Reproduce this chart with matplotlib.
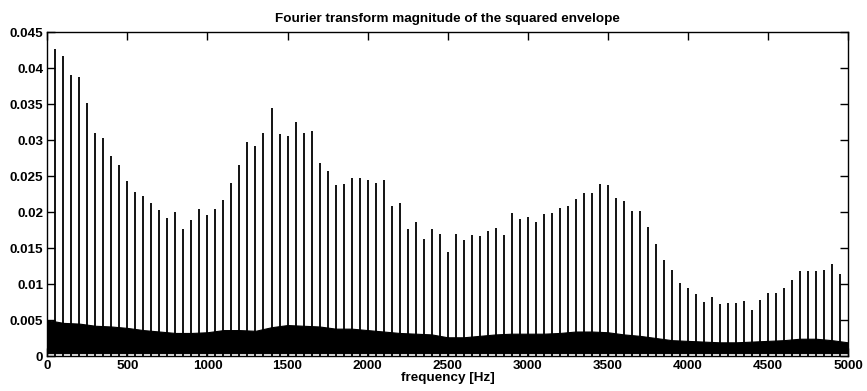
import matplotlib.pyplot as plt
import numpy as np

# harmonic peaks every 50 Hz (50 .. 4950)
harm_freq = np.arange(50, 5000, 50)
harm_mag = [
    0.0426, 0.0417, 0.0391, 0.0388, 0.0351, 0.0310, 0.0303, 0.0278, 0.0266, 0.0243,
    0.0228, 0.0222, 0.0213, 0.0203, 0.0192, 0.0200, 0.0177, 0.0189, 0.0204, 0.0196,
    0.0204, 0.0217, 0.0241, 0.0265, 0.0297, 0.0292, 0.0310, 0.0345, 0.0308, 0.0306,
    0.0325, 0.0310, 0.0312, 0.0268, 0.0257, 0.0238, 0.0239, 0.0247, 0.0247, 0.0245,
    0.0240, 0.0245, 0.0208, 0.0212, 0.0177, 0.0186, 0.0163, 0.0177, 0.0169, 0.0145,
    0.0170, 0.0161, 0.0168, 0.0167, 0.0174, 0.0178, 0.0168, 0.0198, 0.0191, 0.0193,
    0.0186, 0.0197, 0.0199, 0.0206, 0.0209, 0.0218, 0.0226, 0.0226, 0.0239, 0.0237,
    0.0219, 0.0215, 0.0201, 0.0201, 0.0179, 0.0156, 0.0133, 0.0119, 0.0101, 0.0094,
    0.0086, 0.0075, 0.0082, 0.0072, 0.0074, 0.0074, 0.0076, 0.0064, 0.0078, 0.0088,
    0.0088, 0.0094, 0.0105, 0.0118, 0.0118, 0.0118, 0.0119, 0.0128, 0.0114,
]

# noise floor envelope read every 100 Hz
noise_freq = np.arange(0, 5001, 100)
noise_top = [
    0.0050, 0.0046, 0.0045, 0.0042, 0.0041, 0.0039, 0.0036, 0.0034, 0.0032, 0.0032,
    0.0033, 0.0036, 0.0036, 0.0035, 0.0040, 0.0043, 0.0042, 0.0041, 0.0038, 0.0038,
    0.0036, 0.0034, 0.0032, 0.0031, 0.0030, 0.0026, 0.0026, 0.0028, 0.0030, 0.0031,
    0.0031, 0.0031, 0.0032, 0.0034, 0.0034, 0.0033, 0.0030, 0.0028, 0.0025, 0.0022,
    0.0021, 0.0020, 0.0019, 0.0019, 0.0020, 0.0021, 0.0022, 0.0024, 0.0024, 0.0022,
    0.0019,
]
noise_bottom = 0.0004

plt.rcParams['font.family'] = ['Liberation Sans', 'DejaVu Sans']
plt.rcParams['font.weight'] = 'bold'

fig = plt.figure(figsize=(8.67, 3.91), dpi=100)
ax = fig.add_axes([0.0546, 0.0895, 0.9234, 0.8285])

ax.fill_between(noise_freq, noise_bottom, noise_top, color='black', lw=0.8)
ax.vlines(harm_freq, 0, harm_mag, color='black', lw=1.3)

ax.set_xlim(0, 5000)
ax.set_ylim(0, 0.045)
ax.set_xticks(np.arange(0, 5001, 500))
ax.set_yticks(np.arange(0, 0.0451, 0.005))
ax.set_yticklabels(['0', '0.005', '0.01', '0.015', '0.02', '0.025',
                    '0.03', '0.035', '0.04', '0.045'])
ax.tick_params(direction='in', length=6, width=1, top=True, right=True,
               labelsize=9.7, pad=3)
for lab in ax.get_xticklabels() + ax.get_yticklabels():
    lab.set_fontweight('bold')
for s in ax.spines.values():
    s.set_linewidth(1.0)

ax.set_title('Fourier transform magnitude of the squared envelope',
             fontsize=9.7, fontweight='bold', pad=7)
ax.set_xlabel('frequency [Hz]', fontsize=9.7, fontweight='bold', labelpad=0)

fig.savefig('out.png', dpi=100)
